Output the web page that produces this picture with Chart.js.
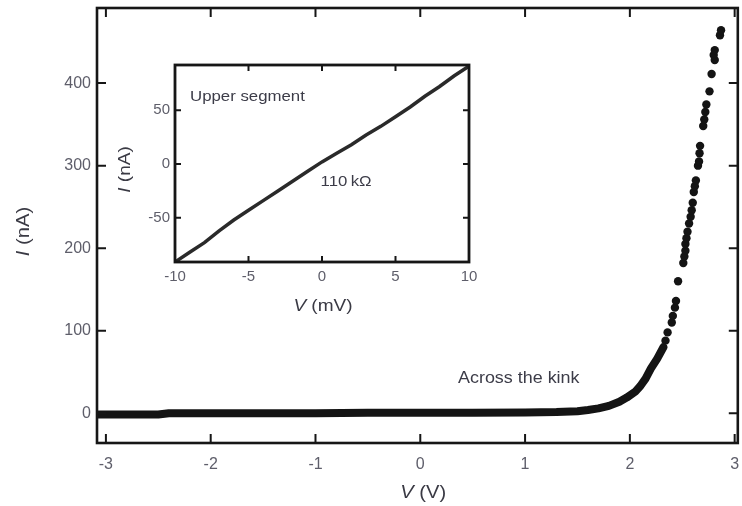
<!DOCTYPE html>
<html>
<head>
<meta charset="utf-8">
<script src="https://cdn.jsdelivr.net/npm/chart.js@4.4.0/dist/chart.umd.min.js"></script>
<style>
  html, body { margin: 0; padding: 0; background: #fff; }
  #wrap { position: relative; width: 742px; height: 506px; }
  #main { position: absolute; left: 0; top: 0; }
  #inset { position: absolute; left: 110px; top: 55px; }
</style>
</head>
<body>
<div id="wrap">
  <canvas id="main" width="742" height="506"></canvas>
  <canvas id="inset" width="370" height="265"></canvas>
</div>
<script>
// main I-V curve, V in volts, I in nA
var xTicks = [-3, -2, -1, 0, 1, 2, 3];
var yTicks = [0, 100, 200, 300, 400];

// dense part (drawn as thick band)
var bandV = [-3.07, -2.8, -2.5, -2.4, -2.0, -1.5, -1.0, -0.5, 0, 0.5, 1.0, 1.3, 1.5, 1.6, 1.7, 1.8, 1.9, 1.97, 2.05, 2.1, 2.15, 2.2, 2.26, 2.32];
var bandI = [-1.5, -1.5, -1.5, 0, 0, 0, 0, 0.5, 0.5, 0.5, 1, 1.5, 2.5, 4, 6, 9, 14, 19, 26, 33, 42, 54, 66, 80];

// sparse part (single dots)
var dotV = [2.34, 2.36, 2.40, 2.41, 2.43, 2.44, 2.46, 2.51, 2.52, 2.53, 2.53, 2.54, 2.55, 2.565, 2.58, 2.59, 2.60, 2.61, 2.62, 2.63, 2.65, 2.66, 2.665, 2.67, 2.70, 2.71, 2.72, 2.73, 2.76, 2.78, 2.81, 2.80, 2.81, 2.86, 2.87];
var dotI = [88, 98, 110, 118, 128, 136, 160, 182, 190, 197, 205, 212, 220, 230, 238, 246, 255, 268, 275, 282, 300, 305, 315, 324, 348, 356, 365, 374, 390, 411, 428, 434, 440, 458, 464];

// inset, V in mV, I in nA
var insetXTicks = [-10, -5, 0, 5, 10];
var insetYTicks = [-50, 0, 50];
var insetV = [-10, -9, -8, -7, -6, -5, -4, -3, -2, -1, 0, 1, 2, 3, 4, 5, 6, 7, 8, 9, 10];
var insetI = [-91, -82, -73, -62, -52, -43, -34, -25, -16, -7, 2, 10, 18, 27, 35, 44, 53, 63, 72, 82, 91];

var FONT = '"Liberation Sans", Arial, sans-serif';

function pts(xs, ys) {
    return xs.map(function (x, i) { return { x: x, y: ys[i] }; });
}

function drawText(ctx, cx, cy, angle, parts, size, color, align) {
    ctx.save();
    ctx.translate(cx, cy);
    ctx.rotate(angle);
    ctx.scale(1.12, 1);
    ctx.textBaseline = 'middle';
    ctx.fillStyle = color;
    var w = 0;
    parts.forEach(function (p) {
        ctx.font = (p[1] ? 'italic ' : '') + size + 'px ' + FONT;
        w += ctx.measureText(p[0]).width;
    });
    var x = align === 'left' ? 0 : -w / 2;
    parts.forEach(function (p) {
        ctx.font = (p[1] ? 'italic ' : '') + size + 'px ' + FONT;
        ctx.fillText(p[0], x, 0);
        x += ctx.measureText(p[0]).width;
    });
    ctx.restore();
}

// frame around the plot with inward ticks on all four sides
function framePlugin(tickLen, lw) {
    return {
        id: 'frame',
        afterDatasetsDraw: function (chart) {
            var ctx = chart.ctx, a = chart.chartArea;
            var xs = chart.scales.x, ys = chart.scales.y;
            ctx.save();
            ctx.strokeStyle = '#161616';
            ctx.lineWidth = lw;
            ctx.strokeRect(a.left, a.top, a.right - a.left, a.bottom - a.top);
            ctx.lineWidth = 2;
            ctx.beginPath();
            xs.ticks.forEach(function (t) {
                var px = xs.getPixelForValue(t.value);
                ctx.moveTo(px, a.bottom); ctx.lineTo(px, a.bottom - tickLen);
                ctx.moveTo(px, a.top); ctx.lineTo(px, a.top + tickLen);
            });
            ys.ticks.forEach(function (t) {
                var py = ys.getPixelForValue(t.value);
                ctx.moveTo(a.left, py); ctx.lineTo(a.left + tickLen, py);
                ctx.moveTo(a.right, py); ctx.lineTo(a.right - tickLen, py);
            });
            ctx.stroke();
            ctx.restore();
        }
    };
}

function setTicks(list) {
    return function (scale) {
        scale.ticks = list.map(function (v) { return { value: v }; });
    };
}

// fixed axis sizes, no label overflow padding
function fixX(h) {
    return function (s) { s.height = h; s.paddingLeft = 0; s.paddingRight = 0; };
}
function fixY(w) {
    return function (s) { s.width = w; s.paddingTop = 0; s.paddingBottom = 0; };
}

var mainLabels = {
    id: 'mainLabels',
    afterDraw: function (chart) {
        var ctx = chart.ctx, a = chart.chartArea;
        var xs = chart.scales.x, ys = chart.scales.y;
        drawText(ctx, xs.getPixelForValue(0) + 3, a.bottom + 50, 0, [['V', true], [' (V)', false]], 18, '#3a3a44');
        drawText(ctx, 24, (a.top + a.bottom) / 2 + 6, -Math.PI / 2, [['I', true], [' (nA)', false]], 18, '#3a3a44');
        drawText(ctx, xs.getPixelForValue(0.36), ys.getPixelForValue(42), 0, [['Across the kink', false]], 16, '#3c3c48', 'left');
    }
};

var insetLabels = {
    id: 'insetLabels',
    afterDraw: function (chart) {
        var ctx = chart.ctx, a = chart.chartArea;
        var xs = chart.scales.x, ys = chart.scales.y;
        drawText(ctx, (a.left + a.right) / 2 + 1, a.bottom + 44, 0, [['V', true], [' (mV)', false]], 17, '#3a3a44');
        drawText(ctx, 15, (a.top + a.bottom) / 2 + 6, -Math.PI / 2, [['I', true], [' (nA)', false]], 17, '#3a3a44');
        drawText(ctx, xs.getPixelForValue(-8.98), ys.getPixelForValue(62), 0, [['Upper segment', false]], 15, '#3c3c48', 'left');
        drawText(ctx, xs.getPixelForValue(-0.1), ys.getPixelForValue(-17), 0, [['110\u2009k\u03A9', false]], 15, '#3c3c48', 'left');
    }
};

var tickFont = { family: FONT, size: 16 };

new Chart(document.getElementById('main'), {
    type: 'scatter',
    data: {
        datasets: [
            {
                label: 'band',
                data: pts(bandV, bandI),
                showLine: true,
                borderColor: '#141414',
                borderWidth: 8,
                borderCapStyle: 'round',
                borderJoinStyle: 'round',
                pointRadius: 0,
                tension: 0
            },
            {
                label: 'dots',
                data: pts(dotV, dotI),
                showLine: false,
                backgroundColor: '#141414',
                borderColor: '#141414',
                pointRadius: 4.2,
                pointBorderWidth: 0
            }
        ]
    },
    options: {
        responsive: false,
        animation: false,
        layout: { padding: { top: 8, right: 0, left: 0, bottom: 0 } },
        plugins: { legend: { display: false }, tooltip: { enabled: false } },
        scales: {
            x: {
                type: 'linear',
                min: -3.085,
                max: 3.03,
                afterBuildTicks: setTicks(xTicks),
                afterFit: fixX(63),
                grid: { display: false, drawTicks: false },
                border: { display: false },
                ticks: { font: tickFont, color: '#5e5e6a', padding: 12, maxRotation: 0 }
            },
            y: {
                type: 'linear',
                min: -36,
                max: 491,
                afterBuildTicks: setTicks(yTicks),
                afterFit: fixY(97),
                grid: { display: false, drawTicks: false },
                border: { display: false },
                ticks: { font: tickFont, color: '#5e5e6a', padding: 6 }
            }
        }
    },
    plugins: [framePlugin(9, 2.6), mainLabels]
});

new Chart(document.getElementById('inset'), {
    type: 'scatter',
    data: {
        datasets: [{
            label: 'upper segment',
            data: pts(insetV, insetI),
            showLine: true,
            borderColor: '#2a2a2a',
            borderWidth: 3.5,
            pointRadius: 0,
            tension: 0
        }]
    },
    options: {
        responsive: false,
        animation: false,
        layout: { padding: { top: 10, right: 11, left: 0, bottom: 0 } },
        plugins: { legend: { display: false }, tooltip: { enabled: false } },
        scales: {
            x: {
                type: 'linear',
                min: -10,
                max: 10,
                afterBuildTicks: setTicks(insetXTicks),
                afterFit: fixX(58),
                grid: { display: false, drawTicks: false },
                border: { display: false },
                ticks: { font: { family: FONT, size: 15 }, color: '#5e5e6a', padding: 6, maxRotation: 0 }
            },
            y: {
                type: 'linear',
                min: -91,
                max: 92,
                afterBuildTicks: setTicks(insetYTicks),
                afterFit: fixY(65),
                grid: { display: false, drawTicks: false },
                border: { display: false },
                ticks: { font: { family: FONT, size: 15 }, color: '#5e5e6a', padding: 5 }
            }
        }
    },
    plugins: [framePlugin(6, 2.8), insetLabels]
});
</script>
</body>
</html>
